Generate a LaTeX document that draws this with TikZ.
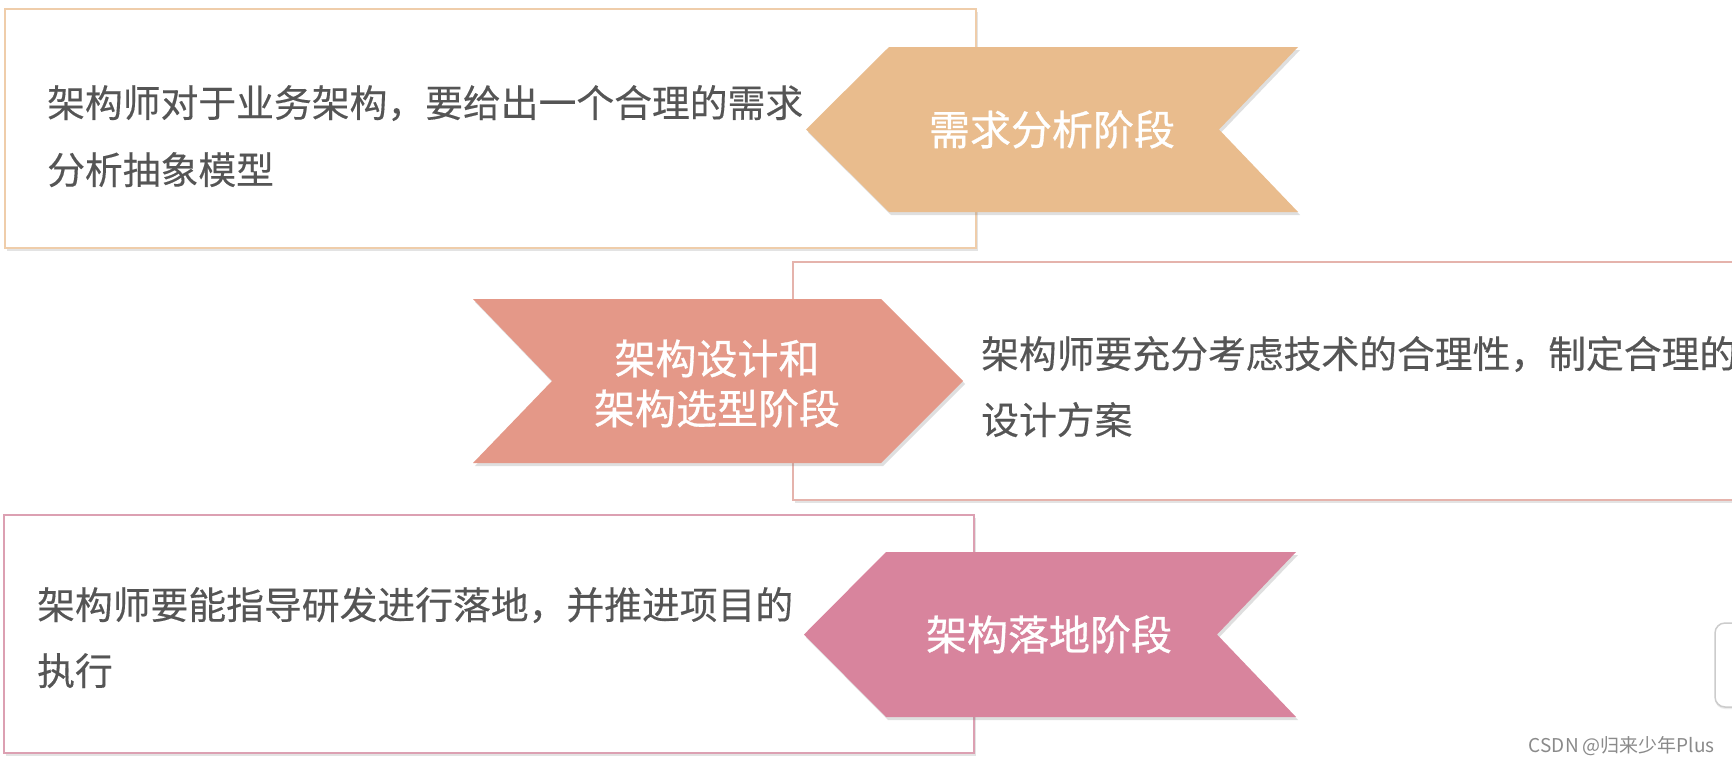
\documentclass[tikz,border=0pt]{standalone}
\usepackage{fontspec}
\setmainfont{Noto Sans CJK SC}
\newfontfamily\descfont{Noto Sans CJK SC}[FakeBold=0.3]
\newfontfamily\lblfont{Noto Sans CJK SC}[FakeBold=0.7]
\usetikzlibrary{shadows}
\definecolor{tanA}{HTML}{E9BC8D}
\definecolor{salmonA}{HTML}{E49888}
\definecolor{pinkA}{HTML}{D8849D}
\definecolor{tanB}{HTML}{EFCDAA}
\definecolor{salmonB}{HTML}{E5B3AC}
\definecolor{pinkB}{HTML}{DCA0B2}
\definecolor{desc}{HTML}{555555}
\definecolor{wm}{HTML}{8A8A8A}
\begin{document}
\begin{tikzpicture}[x=1pt,y=-1pt,
  descbox/.style={fill=white,line width=2pt,drop shadow={shadow xshift=1.5pt,shadow yshift=-3pt,opacity=0.22}},
  chev/.style={drop shadow={shadow xshift=2pt,shadow yshift=-3pt,opacity=0.25}},
  desctext/.style={anchor=base west,inner sep=0pt,text=desc,font=\descfont\fontsize{37.8}{45}\selectfont},
  labeltext/.style={anchor=base,inner sep=0pt,text=white,font=\lblfont\fontsize{41}{50}\selectfont},
  wmtext/.style={anchor=base east,inner sep=0pt,text=wm,font=\fontsize{19}{23}\selectfont}]
\useasboundingbox (0,0) rectangle (1732,764);
\clip (0,0) rectangle (1732,764);
\fill[white] (0,0) rectangle (1732,764);
% partial UI element at right edge
\draw[draw=black!20,fill=white,line width=1.5pt,rounded corners=10pt,drop shadow={shadow xshift=0pt,shadow yshift=-2pt,opacity=0.15}] (1715,623) rectangle (1780,707);
% stage 1
\draw[descbox,draw=tanB] (5,9) rectangle (976,248);
\fill[chev,tanA] (806,129.5) -- (889,47) -- (1298,47) -- (1219,129.5) -- (1298,212) -- (889,212) -- cycle;
\node[desctext] (d1a) at (47,117) {架构师对于业务架构，要给出一个合理的需求};
\node[desctext] (d1b) at (47,184) {分析抽象模型};
\node[labeltext] (l1) at (1052,145) {需求分析阶段};
% stage 2
\draw[descbox,draw=salmonB] (793,262) rectangle (1760,500);
\fill[chev,salmonA] (473,299) -- (881,299) -- (963,381) -- (881,463) -- (473,463) -- (552,381) -- cycle;
\node[desctext] (d2a) at (981,368) {架构师要充分考虑技术的合理性，制定合理的};
\node[desctext] (d2b) at (981,434) {设计方案};
\node[labeltext] (l2a) at (717,374) {架构设计和};
\node[labeltext] (l2b) at (717,424) {架构选型阶段};
% stage 3
\draw[descbox,draw=pinkB] (4,515) rectangle (974,753);
\fill[chev,pinkA] (804,634.5) -- (886,552) -- (1296,552) -- (1217,634.5) -- (1296,717) -- (886,717) -- cycle;
\node[desctext] (d3a) at (37,619) {架构师要能指导研发进行落地，并推进项目的};
\node[desctext] (d3b) at (37,685) {执行};
\node[labeltext] (l3) at (1049,650) {架构落地阶段};
% watermark
\node[wmtext] (wm) at (1715,752) {CSDN @归来少年Plus};
\end{tikzpicture}
\end{document}
